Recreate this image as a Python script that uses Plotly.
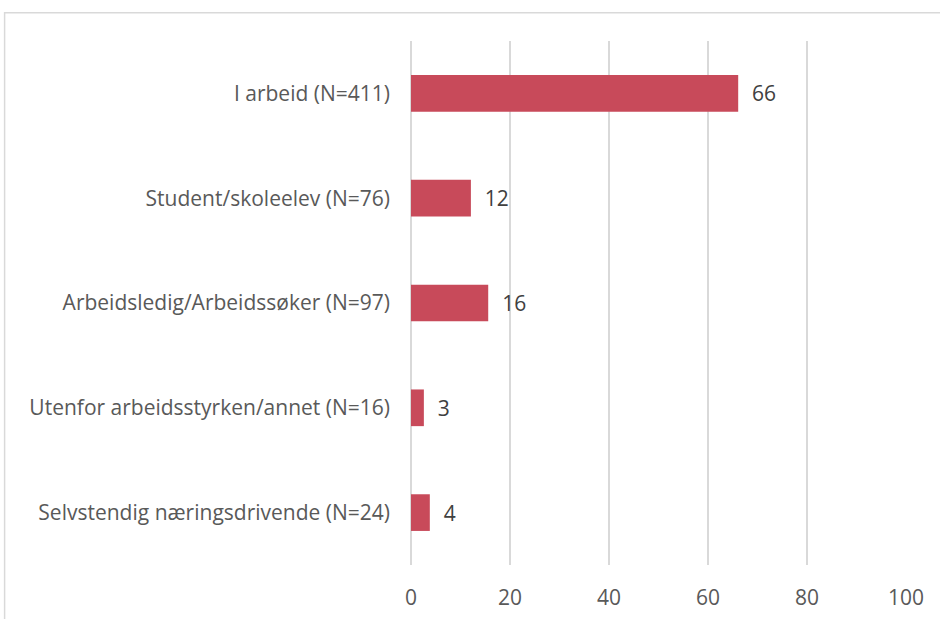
import plotly.graph_objects as go

categories = [
    "I arbeid (N=411)",
    "Student/skoleelev (N=76)",
    "Arbeidsledig/Arbeidssøker (N=97)",
    "Utenfor arbeidsstyrken/annet (N=16)",
    "Selvstendig næringsdrivende (N=24)",
]
values = [66.1, 12.1, 15.6, 2.6, 3.8]
labels = ["66", "12", "16", "3", "4"]
x_ticks = [0, 20, 40, 60, 80, 100]

FS = 21

fig = go.Figure(go.Bar(
    y=categories,
    x=values,
    orientation="h",
    marker=dict(color="#C84A5A", line=dict(width=0)),
    text=["\u00a0\u00a0" + t for t in labels],
    textposition="outside",
    textfont=dict(family="Open Sans", size=FS, color="#404040"),
    cliponaxis=False,
))

fig.update_layout(
    width=940, height=619,
    margin=dict(l=411, r=34, t=41, b=54),
    paper_bgcolor="white", plot_bgcolor="white",
    bargap=0.65,
    showlegend=False,
    font=dict(family="Open Sans", size=FS, color="#595959"),
    xaxis=dict(
        range=[0, 100], tickvals=x_ticks, showgrid=True,
        gridcolor="#d9d9d9", gridwidth=1.5, zeroline=True,
        zerolinecolor="#d9d9d9", zerolinewidth=1.5,
        showline=False, ticks="", ticklabelstandoff=18,
        automargin=False,
        tickfont=dict(size=FS, color="#595959"),
    ),
    yaxis=dict(
        categoryorder="array", categoryarray=categories[::-1],
        showgrid=False, zeroline=False, showline=False, ticks="",
        ticklabelstandoff=20, automargin=False,
        tickfont=dict(size=FS, color="#595959"),
    ),
    shapes=[dict(
        type="rect", xref="paper", yref="paper",
        x0=-0.821, x1=1.2, y0=-0.2, y1=1.054,
        line=dict(color="#d9d9d9", width=1.5), fillcolor="rgba(0,0,0,0)",
        layer="below",
    )],
)

fig.write_html("out.html", config={"displayModeBar": False},
               post_script="document.body.style.margin='0';")
